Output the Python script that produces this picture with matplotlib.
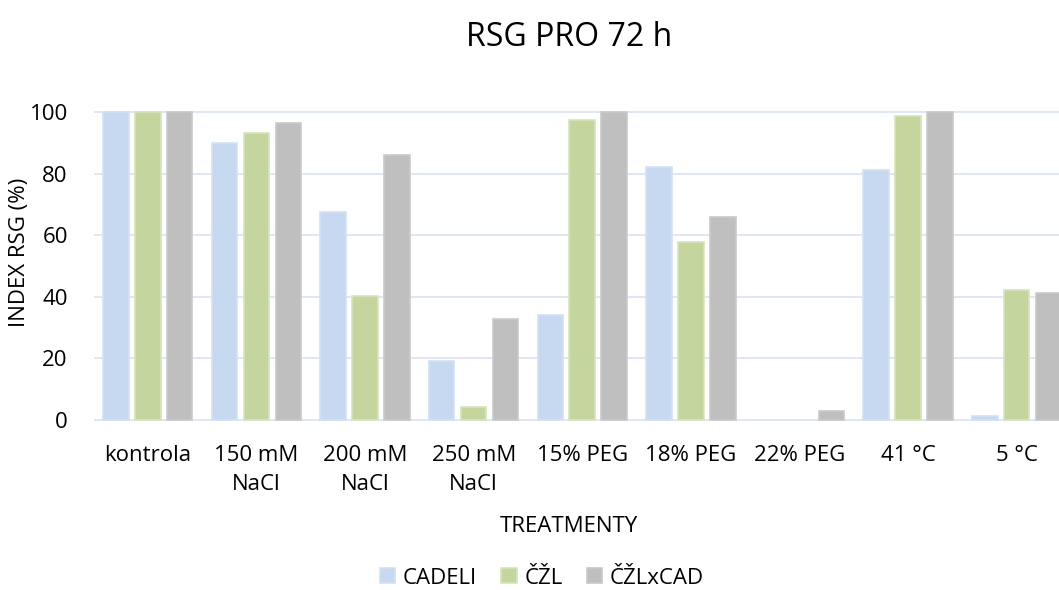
import numpy as np
import matplotlib.pyplot as plt

plt.rcParams['font.family'] = ['Open Sans', 'DejaVu Sans']

categories = ['kontrola', '150 mM\nNaCl', '200 mM\nNaCl', '250 mM\nNaCl', '15% PEG',
              '18% PEG', '22% PEG', '41 °C', '5 °C']
cadeli = [100, 89.8, 67.6, 19.0, 34.2, 82.1, 0, 81.2, 1.3]
czl = [100, 93.3, 40.4, 4.1, 97.4, 57.8, 0, 98.7, 42.1]
czl_x_cad = [100, 96.3, 85.9, 32.9, 100, 65.9, 3.0, 100, 41.3]
series_names = ['CADELI', 'ČŽL', 'ČŽLxCAD']

W, H = 1059, 590
fig = plt.figure(figsize=(W / 100, H / 100), dpi=100)

# plot area in pixels: x from 93.5 to 1071 (last group runs off the edge)
y0px, ppu = 420.0, 3.08
ylo, yhi = -1, 102
bot = y0px - ylo * ppu
top = y0px - yhi * ppu
axw, axh = 1071 - 93.5, bot - top
ax = fig.add_axes([93.5 / W, 1 - bot / H, axw / W, axh / H])

x = np.arange(len(categories))
step, width = 0.294, 0.235
faces = ['#C6D9F0', '#C4D59D', '#BFBFBF']
edges = ['#D3E1F3', '#D7E4BC', '#C9C9C9']
for i, (vals, name) in enumerate(zip([cadeli, czl, czl_x_cad], series_names)):
    lw = [1.2 if v > 0 else 0 for v in vals]
    ax.bar(x + (i - 1) * step, vals, width, color=faces[i], edgecolor=edges[i],
           linewidth=lw, label=name, zorder=3)

fs = 16
ax.set_xlim(-0.5, len(categories) - 0.5)
ax.set_ylim(ylo, yhi)
ax.set_yticks([0, 20, 40, 60, 80, 100])
ax.set_xticks(x)
ax.set_xticklabels(categories, fontsize=fs, linespacing=1.55)
ax.tick_params(axis='both', length=0, labelsize=fs, colors='#000000')
ax.tick_params(axis='y', pad=18.5)
ax.tick_params(axis='x', pad=15.5)
ax.grid(axis='y', color='#D9E2F3', linewidth=1.2, zorder=0)
for s in ax.spines.values():
    s.set_visible(False)

ax.set_ylabel('INDEX RSG (%)', fontsize=fs, va='center')
ax.yaxis.set_label_coords((20 - 93.5) / axw, (bot - 252) / axh)
ax.set_xlabel('TREATMENTY', fontsize=fs, va='center')
ax.xaxis.set_label_coords((569 - 93.5) / axw, -(527 - bot) / axh)
fig.text(569 / W, 1 - 37 / H, 'RSG PRO 72 h', fontsize=23, ha='center', va='center')

fig.legend(loc='center', bbox_to_anchor=(542 / W, 1 - 578 / H), ncol=3, frameon=False,
           fontsize=fs, handlelength=0.68, handleheight=0.68, handletextpad=0.35,
           columnspacing=1.1)

fig.savefig('out.png', dpi=100)
